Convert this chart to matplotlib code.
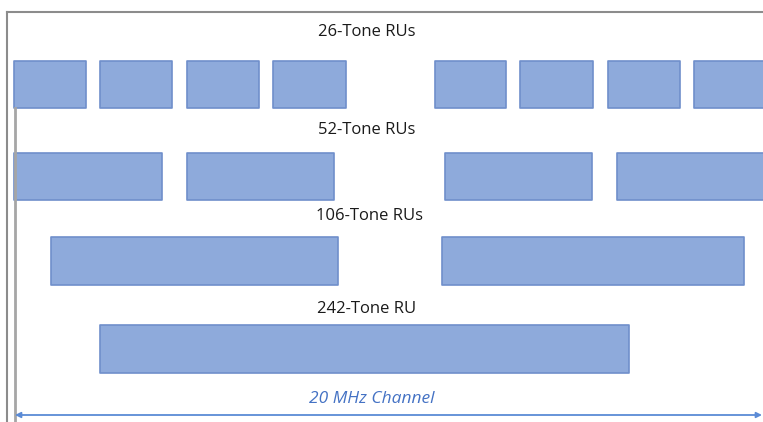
import matplotlib
matplotlib.use("Agg")
import matplotlib.pyplot as plt

# box extents (left, right) in picture units, one list per RU row
ru26_left = [14, 100, 187, 273, 435, 520, 608, 694]
ru26_right = [86, 172, 259, 346, 506, 593, 680, 770]
ru52_left = [14, 187, 445, 617]
ru52_right = [162, 334, 592, 770]
ru106_left = [51, 442]
ru106_right = [338, 744]
ru242_left = [100]
ru242_right = [629]

row_labels = ["26-Tone RUs", "52-Tone RUs", "106-Tone RUs", "242-Tone RU"]
row_tops = [61, 153, 237, 325]
row_heights = [47, 47, 48, 48]
label_y = [32, 130, 216, 309]
label_x = [367, 367, 370, 367]

fill = "#8eaadb"
edge = "#6f8fcb"

fig = plt.figure(figsize=(7.63, 4.22), dpi=100)
ax = fig.add_axes([0, 0, 1, 1])
ax.set_xlim(0, 763)
ax.set_ylim(422, 0)
ax.axis("off")

# outer frame (left and top edges visible)
ax.plot([7, 7], [12, 422], color="#8c8c8c", lw=1.5)
ax.plot([7, 763], [12, 12], color="#8c8c8c", lw=1.5)

# channel start marker
ax.plot([15, 15], [108, 422], color="#a6a6a6", lw=2)

rows = [(ru26_left, ru26_right), (ru52_left, ru52_right),
        (ru106_left, ru106_right), (ru242_left, ru242_right)]
for (lefts, rights), top, h in zip(rows, row_tops, row_heights):
    spans = [(l, r - l) for l, r in zip(lefts, rights)]
    ax.broken_barh(spans, (top, h), facecolors=fill, edgecolors=edge, linewidth=1.2)

for lab, x, y in zip(row_labels, label_x, label_y):
    ax.text(x, y, lab, ha="center", va="center", fontsize=12,
            family="Open Sans", color="#1a1a1a")

# 20 MHz channel arrow
ax.annotate("", xy=(762, 415), xytext=(15, 415),
            arrowprops=dict(arrowstyle="<|-|>", color="#5b8bd6", lw=1.3,
                            mutation_scale=8, shrinkA=0, shrinkB=0))
ax.text(372, 399, "20 MHz Channel", ha="center", va="center", fontsize=12.5,
        family="Open Sans", style="italic", color="#4472c4")

fig.savefig("out.png", dpi=100)
